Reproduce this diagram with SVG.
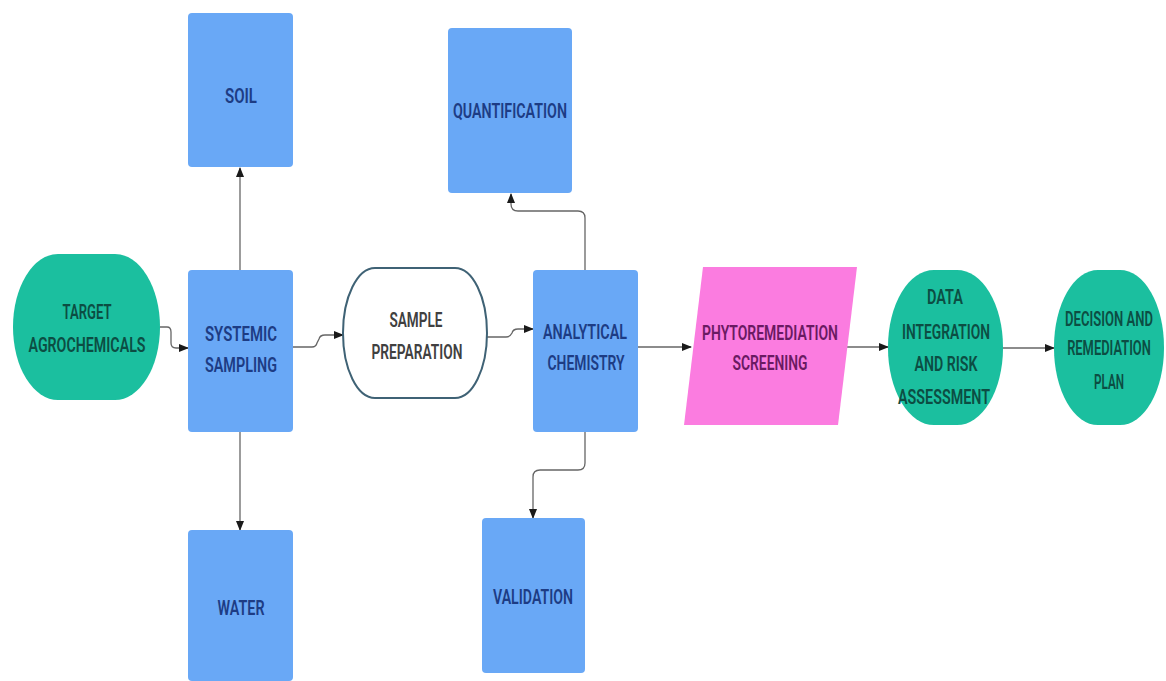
<svg xmlns="http://www.w3.org/2000/svg" width="1166" height="681" viewBox="0 0 1166 681">
<defs>
<marker id="arr" markerWidth="10" markerHeight="8" refX="9" refY="4" orient="auto" markerUnits="userSpaceOnUse">
<path d="M0,0 L10,4 L0,8 Z" fill="#1a1a1a"/>
</marker>
<style>
.blue{fill:#69a8f6;}
.teal{fill:#1bbf9f;}
.pink{fill:#fb7ce0;}
.white{fill:#ffffff;stroke:#3f6275;stroke-width:2;}
text{font-family:Roboto,"Liberation Sans",sans-serif;font-weight:600;font-size:20px;text-anchor:middle;}
.tb{fill:#1d3c84;}
.tt{fill:#0c4d43;}
.tg{fill:#404040;}
.tp{fill:#6a1a62;}
.c{fill:none;stroke:#666666;stroke-width:1.3;marker-end:url(#arr);}
</style>
</defs>
<rect width="1166" height="681" fill="#ffffff"/>
<g id="connectors">
<path class="c" d="M160,327 L167,327 Q171,327 171,332 L171,343 Q171,348 176,348 L188,348"/>
<path class="c" d="M293,347 L312,347 Q316,347 317,343 L319,339 Q320,335 325,335 L343,335"/>
<path class="c" d="M487,337 L506,337 Q510,337 512,333 Q513,329 518,329 L533,329"/>
<path class="c" d="M638,347 L691,347"/>
<path class="c" d="M846,347 L888,347"/>
<path class="c" d="M1003,348 L1054,348"/>
<path class="c" d="M240,270 L240,168"/>
<path class="c" d="M240,432 L240,530"/>
<path class="c" d="M585,270 L585,218 Q585,211 578,211 L518,211 Q511,211 511,204 L511,194"/>
<path class="c" d="M585,432 L585,463 Q585,470 578,470 L540,470 Q533,470 533,477 L533,518"/>
</g>
<g id="target">
<rect class="teal" x="13" y="254" width="147" height="146" rx="45" ry="73"/>
<text class="tt" x="87" y="319" textLength="49" lengthAdjust="spacingAndGlyphs">TARGET</text>
<text class="tt" x="87" y="352" textLength="117" lengthAdjust="spacingAndGlyphs">AGROCHEMICALS</text>
</g>
<g id="systemic">
<rect class="blue" x="188" y="270" width="105" height="162" rx="4"/>
<text class="tb" x="241" y="341" textLength="72" lengthAdjust="spacingAndGlyphs">SYSTEMIC</text>
<text class="tb" x="241" y="372" textLength="72" lengthAdjust="spacingAndGlyphs">SAMPLING</text>
</g>
<g id="soil">
<rect class="blue" x="188" y="13" width="105" height="154" rx="4"/>
<text class="tb" x="241" y="103" textLength="32" lengthAdjust="spacingAndGlyphs">SOIL</text>
</g>
<g id="water">
<rect class="blue" x="188" y="530" width="105" height="151" rx="4"/>
<text class="tb" x="241" y="615" textLength="47" lengthAdjust="spacingAndGlyphs">WATER</text>
</g>
<g id="sample">
<rect class="white" x="343" y="268" width="144" height="130" rx="32" ry="65"/>
<text class="tg" x="416" y="327" textLength="53" lengthAdjust="spacingAndGlyphs">SAMPLE</text>
<text class="tg" x="417" y="359" textLength="91" lengthAdjust="spacingAndGlyphs">PREPARATION</text>
</g>
<g id="analytical">
<rect class="blue" x="533" y="270" width="105" height="162" rx="4"/>
<text class="tb" x="585" y="339" textLength="84" lengthAdjust="spacingAndGlyphs">ANALYTICAL</text>
<text class="tb" x="586" y="370" textLength="77" lengthAdjust="spacingAndGlyphs">CHEMISTRY</text>
</g>
<g id="quantification">
<rect class="blue" x="448" y="28" width="124" height="165" rx="4"/>
<text class="tb" x="510" y="118" textLength="114" lengthAdjust="spacingAndGlyphs">QUANTIFICATION</text>
</g>
<g id="validation">
<rect class="blue" x="482" y="518" width="103" height="155" rx="4"/>
<text class="tb" x="533" y="604" textLength="80" lengthAdjust="spacingAndGlyphs">VALIDATION</text>
</g>
<g id="phyto">
<path class="pink" d="M703,267 L857,267 L838,425 L684,425 Z"/>
<text class="tp" x="770" y="340" textLength="136" lengthAdjust="spacingAndGlyphs">PHYTOREMEDIATION</text>
<text class="tp" x="770" y="370" textLength="75" lengthAdjust="spacingAndGlyphs">SCREENING</text>
</g>
<g id="data">
<rect class="teal" x="888" y="270" width="115" height="155" rx="46" ry="77"/>
<text class="tt" x="945" y="304" textLength="36" lengthAdjust="spacingAndGlyphs">DATA</text>
<text class="tt" x="946" y="339" textLength="88" lengthAdjust="spacingAndGlyphs">INTEGRATION</text>
<text class="tt" x="946" y="371" textLength="63" lengthAdjust="spacingAndGlyphs">AND RISK</text>
<text class="tt" x="944" y="404" textLength="92" lengthAdjust="spacingAndGlyphs">ASSESSMENT</text>
</g>
<g id="decision">
<rect class="teal" x="1054" y="270" width="110" height="155" rx="44" ry="77"/>
<g transform="translate(1109,0) scale(0.67,1)">
<text class="tt" x="0" y="326" textLength="131" lengthAdjust="spacingAndGlyphs">DECISION AND</text>
<text class="tt" x="0" y="355" textLength="125" lengthAdjust="spacingAndGlyphs">REMEDIATION</text>
<text class="tt" x="0" y="389" textLength="45" lengthAdjust="spacingAndGlyphs">PLAN</text>
</g>
</g>
</svg>
